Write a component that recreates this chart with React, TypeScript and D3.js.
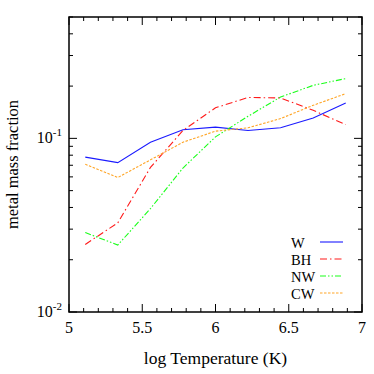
import React from "react";
import * as d3 from "d3";

// bin centres of log T
const logT = [5.111, 5.333, 5.556, 5.778, 6.0, 6.222, 6.444, 6.667, 6.889];

const wValues = [0.078, 0.0725, 0.095, 0.112, 0.116, 0.111, 0.115, 0.131, 0.16];
const bhValues = [0.0245, 0.0326, 0.068, 0.111, 0.15, 0.172, 0.171, 0.145, 0.12];
const nwValues = [0.0287, 0.0243, 0.0394, 0.0675, 0.102, 0.134, 0.173, 0.202, 0.221];
const cwValues = [0.071, 0.0595, 0.0752, 0.095, 0.11, 0.115, 0.13, 0.155, 0.181];

const seriesNames = ["W", "BH", "NW", "CW"];
const xTicks = [5, 5.5, 6, 6.5, 7];

const styles: Record<string, { color: string; dash: string }> = {
  W: { color: "#1a1aff", dash: "none" },
  BH: { color: "#ff1a1a", dash: "7,3,1.5,3" },
  NW: { color: "#1aff1a", dash: "6,2,1.5,2,1.5,2" },
  CW: { color: "#ffa526", dash: "2.5,1.5" },
};

const W = 374;
const H = 374;
const m = { left: 69, right: 12, top: 17, bottom: 62 };
const font = "Liberation Serif, DejaVu Serif, serif";

export default function App() {
  const x = d3.scaleLinear().domain([5, 7]).range([m.left, W - m.right]);
  const y = d3.scaleLog().domain([0.01, 0.5]).range([H - m.bottom, m.top]);

  const data: Record<string, number[]> = {
    W: wValues,
    BH: bhValues,
    NW: nwValues,
    CW: cwValues,
  };

  const line = d3
    .line<number>()
    .x((_, i) => x(logT[i]))
    .y((d) => y(d));

  const x0 = m.left;
  const x1 = W - m.right;
  const y0 = H - m.bottom;
  const y1 = m.top;

  const xMinor = d3.range(5, 7.001, 0.1).filter((v) => !xTicks.some((t) => Math.abs(t - v) < 1e-6));
  const yMinor: number[] = [];
  [0.01, 0.1].forEach((dec) => {
    for (let k = 2; k <= 9; k++) {
      const v = dec * k;
      if (v <= 0.5) yMinor.push(v);
    }
  });
  const yMajor = [0.01, 0.1];

  const major = 8;
  const minor = 4;
  const ts = { fontFamily: font };

  return (
    <svg
      width={W}
      height={H}
      style={{ position: "absolute", left: 0, top: 0, background: "#fff" }}
    >
      {/* series */}
      {seriesNames.map((s) => (
        <path
          key={s}
          d={line(data[s]) || ""}
          fill="none"
          stroke={styles[s].color}
          strokeWidth={1.1}
          strokeDasharray={styles[s].dash}
        />
      ))}

      {/* ticks */}
      <g stroke="#000" strokeWidth={1}>
        {xTicks.map((t) => (
          <g key={"xt" + t}>
            <line x1={x(t)} x2={x(t)} y1={y0} y2={y0 - major} />
            <line x1={x(t)} x2={x(t)} y1={y1} y2={y1 + major} />
          </g>
        ))}
        {xMinor.map((t) => (
          <g key={"xm" + t}>
            <line x1={x(t)} x2={x(t)} y1={y0} y2={y0 - minor} />
            <line x1={x(t)} x2={x(t)} y1={y1} y2={y1 + minor} />
          </g>
        ))}
        {yMajor.map((t) => (
          <g key={"ym" + t}>
            <line x1={x0} x2={x0 + major} y1={y(t)} y2={y(t)} />
            <line x1={x1} x2={x1 - major} y1={y(t)} y2={y(t)} />
          </g>
        ))}
        {yMinor.map((t) => (
          <g key={"yn" + t}>
            <line x1={x0} x2={x0 + minor} y1={y(t)} y2={y(t)} />
            <line x1={x1} x2={x1 - minor} y1={y(t)} y2={y(t)} />
          </g>
        ))}
      </g>

      {/* frame */}
      <rect x={x0} y={y1} width={x1 - x0} height={y0 - y1} fill="none" stroke="#000" strokeWidth={1.5} />

      {/* x tick labels */}
      {xTicks.map((t) => (
        <text key={"xl" + t} x={x(t)} y={y0 + 21} textAnchor="middle" fontSize={16} fill="#000" style={ts}>
          {t}
        </text>
      ))}
      {/* y tick labels */}
      {yMajor.map((t) => (
        <text key={"yl" + t} x={x0 - 7} y={y(t) + 5} textAnchor="end" fontSize={16} fill="#000" style={ts}>
          10
          <tspan dy={-7} fontSize={11}>
            {Math.round(Math.log10(t))}
          </tspan>
        </text>
      ))}

      {/* axis titles */}
      <text x={(x0 + x1) / 2} y={H - 10} textAnchor="middle" fontSize={17.5} fill="#000" style={ts}>
        log Temperature (K)
      </text>
      <text
        transform={`translate(18,${(y0 + y1) / 2}) rotate(-90)`}
        textAnchor="middle"
        fontSize={16.5}
        fill="#000"
        style={ts}
      >
        metal mass fraction
      </text>

      {/* legend */}
      {seriesNames.map((s, i) => {
        const ly = 242 + i * 17;
        return (
          <g key={"lg" + s}>
            <text x={291} y={ly + 5.5} textAnchor="start" fontSize={14.5} fill="#000" style={ts}>
              {s}
            </text>
            <line
              x1={320}
              x2={343}
              y1={ly}
              y2={ly}
              stroke={styles[s].color}
              strokeWidth={1.1}
              strokeDasharray={styles[s].dash}
            />
          </g>
        );
      })}
    </svg>
  );
}
